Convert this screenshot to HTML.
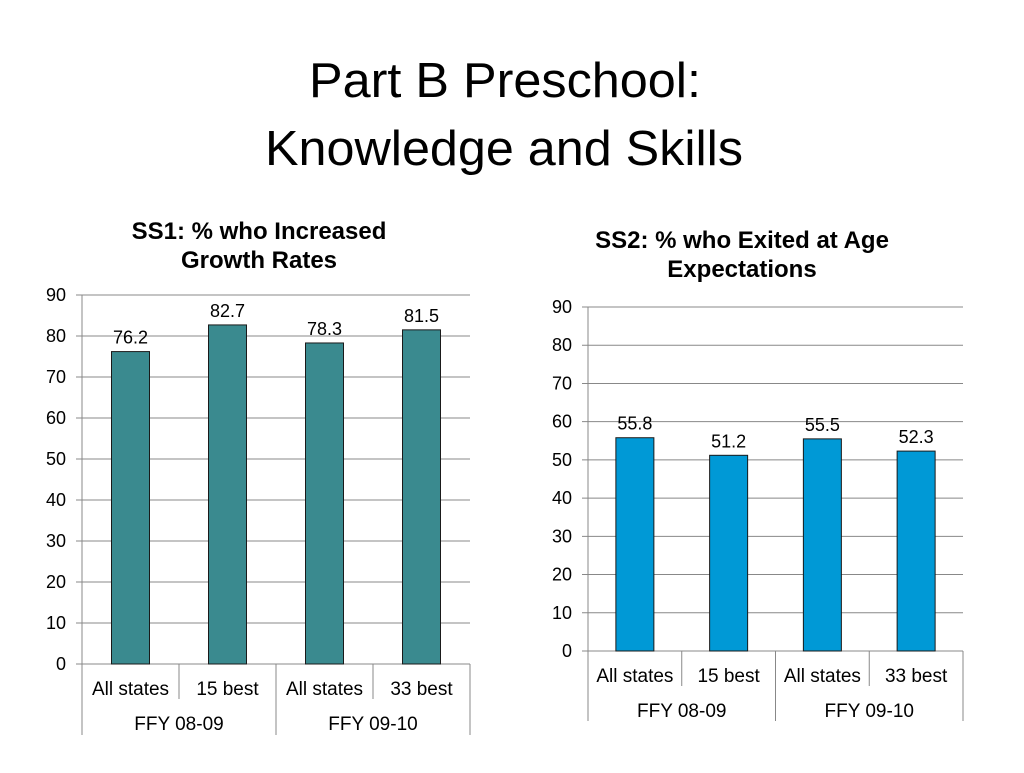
<!DOCTYPE html>
<html><head><meta charset="utf-8"><style>
body{margin:0;background:#fff;width:1024px;height:768px;overflow:hidden;font-family:"Liberation Sans",sans-serif}
</style></head><body>
<svg id="s" width="1024" height="768" xmlns="http://www.w3.org/2000/svg">
<text x="505" y="97" text-anchor="middle" font-size="49" textLength="392" lengthAdjust="spacingAndGlyphs">Part B Preschool:</text>
<text x="504" y="165" text-anchor="middle" font-size="49" textLength="478" lengthAdjust="spacingAndGlyphs">Knowledge and Skills</text>
<text x="259" y="239" text-anchor="middle" font-size="24" font-weight="bold">SS1: % who Increased</text>
<text x="259" y="268" text-anchor="middle" font-size="24" font-weight="bold">Growth Rates</text>
<text x="742" y="248" text-anchor="middle" font-size="24" font-weight="bold">SS2: % who Exited at Age</text>
<text x="742" y="277" text-anchor="middle" font-size="24" font-weight="bold">Expectations</text>
</svg>
<script>
const categories = ["All states","15 best","All states","33 best"];
const groups = ["FFY 08-09","FFY 09-10"];
const ss1Values = [76.2,82.7,78.3,81.5];
const ss2Values = [55.8,51.2,55.5,52.3];
const yTicks = [0,10,20,30,40,50,60,70,80,90];
const svg = document.getElementById('s');
const NS = 'http://www.w3.org/2000/svg';
function mk(tag, attrs){const e=document.createElementNS(NS,tag);for(const k in attrs)e.setAttribute(k,attrs[k]);svg.appendChild(e);return e;}
function chart(prefix, vals, color, x0, x1, yBase, yTop, catY, grpY, shortEnd, longEnd){
  const y = v => yBase - (v/90)*(yBase-yTop);
  const cw = (x1-x0)/vals.length;
  yTicks.forEach(t=>{
    const l = mk('line',{x1:x0-6,x2:x1,y1:y(t),y2:y(t),stroke:'#888','stroke-width':1});
    
    
    const tx = mk('text',{x:x0-16,y:y(t)+6,'text-anchor':'end','font-size':18});
    tx.textContent = t;
    
    
  });
  const ax = mk('line',{x1:x0,x2:x0,y1:yTop,y2:longEnd,stroke:'#888'});
  
  
  const rx = mk('line',{x1:x1,x2:x1,y1:yBase,y2:longEnd,stroke:'#888'});
  
  
  vals.forEach((v,i)=>{
    const cx = x0 + cw*(i+0.5);
    const b = mk('rect',{x:cx-19,y:y(v),width:38,height:yBase-y(v),fill:color,stroke:'#1a1a1a','stroke-width':1});
    
    
    const lt = mk('text',{x:cx,y:y(v)-8,'text-anchor':'middle','font-size':18});
    lt.textContent = v.toFixed(1);
    
    
    const ct = mk('text',{x:cx,y:catY,'text-anchor':'middle','font-size':19});
    ct.textContent = categories[i];
    
    
    if(i>0){
      const d = mk('line',{x1:x0+cw*i,x2:x0+cw*i,y1:yBase,y2:(i==2?longEnd:shortEnd),stroke:'#888'});
      
      
    }
  });
  groups.forEach((g,j)=>{
    const gt = mk('text',{x:x0+cw*(2*j+1),y:grpY,'text-anchor':'middle','font-size':19});
    gt.textContent = g;
    
    
  });
}
chart('ss1', ss1Values, '#3a8a8f', 82, 470, 664, 295, 695, 730, 699, 735);
chart('ss2', ss2Values, '#0099d6', 588, 963, 651, 307, 682, 717, 686, 721);
</script>
</body></html>
